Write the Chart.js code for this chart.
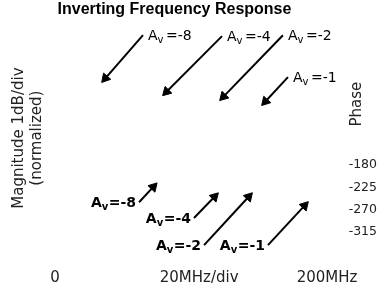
<!DOCTYPE html>
<html><head><meta charset="utf-8">
<script src="https://cdn.jsdelivr.net/npm/chart.js@4"></script>
<style>html,body{margin:0;padding:0;background:#fff}#wrap{width:381px;height:290px;position:relative}</style>
</head><body><div id="wrap"><canvas id="c"></canvas></div>
<script>
const chartTitle = 'Inverting Frequency Response';
const xTickValues = [0, 106, 200];
const xTickLabels = ['0', '20MHz/div', '200MHz'];
const phaseTickValues = [-180, -225, -270, -315];
const magTitle = ['Magnitude 1dB/div', '(normalized)'];
const phaseTitle = 'Phase';

// magnitude callouts (x in MHz, y in dB divisions)
const magGains = ['-8', '-4', '-2', '-1'];
const magTailMHz = [64.7, 122.8, 167.6, 171.3];
const magTailDiv = [9.44, 9.40, 9.44, 7.63];
const magHeadMHz = [37.0, 82.0, 123.9, 154.7];
const magHeadDiv = [7.58, 7.00, 6.79, 6.58];

// phase callouts (x in MHz, y in degrees)
const phaseGains = ['-8', '-4', '-2', '-1'];
const phaseTailMHz = [61.8, 102.2, 109.6, 156.6];
const phaseTailDeg = [-255, -287, -342, -342];
const phaseHeadMHz = [72.3, 117.3, 142.4, 183.5];
const phaseHeadDeg = [-224, -244, -244, -262];

function headRotation(c) {
  const ds = c.dataset, ch = c.chart;
  const xs = ch.scales.x, ys = ch.scales[ds.yAxisID];
  if (!xs || !ys) return 0;
  const p0 = ds.data[0], p1 = ds.data[1];
  const dx = xs.getPixelForValue(p1.x) - xs.getPixelForValue(p0.x);
  const dy = ys.getPixelForValue(p1.y) - ys.getPixelForValue(p0.y);
  return Math.atan2(dx, -dy) * 180 / Math.PI;
}

function arrowSets(gains, tx, ty, hx, hy, axis, side, bold) {
  return gains.map((g, i) => ({
    data: [{x: tx[i], y: ty[i]}, {x: hx[i], y: hy[i]}],
    yAxisID: axis, gain: g, labelSide: side, bold: bold,
    showLine: true, borderColor: '#000', borderWidth: 2, backgroundColor: '#000',
    pointBackgroundColor: '#000', pointBorderColor: '#000', pointBorderWidth: 1,
    pointStyle: 'triangle', pointRadius: [0, 5.5], pointHoverRadius: [0, 5.5],
    pointRotation: headRotation, clip: false
  }));
}

function drawGain(ctx, gain, x, y, side, bold) {
  const w = bold ? 'bold ' : '';
  const big = w + '14px "DejaVu Sans"', small = w + '10px "DejaVu Sans"';
  const rest = '=' + gain;
  ctx.font = big;
  const wA = ctx.measureText('A').width, wR = ctx.measureText(rest).width;
  ctx.font = small;
  const wv = ctx.measureText('v').width;
  const gap = bold ? 0.5 : 2.5;
  const total = wA + wv + gap + wR;
  const x0 = side === 'right' ? x + 5 : x - 3 - total;
  const base = y + 5;
  ctx.fillStyle = '#000'; ctx.textAlign = 'left'; ctx.textBaseline = 'alphabetic';
  ctx.font = big; ctx.fillText('A', x0, base);
  ctx.font = small; ctx.fillText('v', x0 + wA, base + 3);
  ctx.font = big; ctx.fillText(rest, x0 + wA + wv + gap, base);
}

const annot = {
  id: 'annot',
  afterDatasetsDraw(chart) {
    const ctx = chart.ctx;
    ctx.save();
    chart.data.datasets.forEach(ds => {
      const xs = chart.scales.x, ys = chart.scales[ds.yAxisID];
      drawGain(ctx, ds.gain, xs.getPixelForValue(ds.data[0].x), ys.getPixelForValue(ds.data[0].y), ds.labelSide, ds.bold);
    });
    const a = chart.chartArea;
    ctx.translate(a.right + 30, a.top + 82);
    ctx.rotate(-Math.PI / 2);
    ctx.font = '15px "DejaVu Sans"'; ctx.fillStyle = '#222';
    ctx.textAlign = 'center'; ctx.textBaseline = 'middle';
    ctx.fillText(phaseTitle, 0, 0);
    ctx.restore();
  }
};

const datasets = [
  ...arrowSets(magGains, magTailMHz, magTailDiv, magHeadMHz, magHeadDiv, 'y', 'right', false),
  ...arrowSets(phaseGains, phaseTailMHz, phaseTailDeg, phaseHeadMHz, phaseHeadDeg, 'y1', 'left', true)
];

new Chart(document.getElementById('c'), {
  type: 'scatter',
  data: { datasets },
  plugins: [annot],
  options: {
    responsive: true, maintainAspectRatio: false, animation: false, devicePixelRatio: 1,
    events: [],
    layout: { padding: { left: 0, right: 32, top: 0, bottom: 0 } },
    plugins: {
      legend: { display: false },
      tooltip: { enabled: false },
      title: { display: true, text: chartTitle, color: '#000',
        font: { family: '"Liberation Sans"', size: 16, weight: 'bold', lineHeight: 1.2 },
        padding: { top: 0, bottom: 3 } }
    },
    scales: {
      x: { type: 'linear', min: 0, max: 200,
        grid: { display: false, drawTicks: false }, border: { display: false },
        afterBuildTicks: s => { s.ticks = xTickValues.map(v => ({ value: v })); },
        afterFit: s => { s.height = 36; },
        ticks: { autoSkip: false, maxRotation: 0, minRotation: 0, padding: 15, color: '#222',
          font: { family: '"DejaVu Sans"', size: 15, lineHeight: 1.2 },
          callback: (v, i) => xTickLabels[i] } },
      y: { position: 'left', min: 0, max: 10,
        grid: { display: false, drawTicks: false }, border: { display: false },
        ticks: { display: false },
        afterFit: s => { s.width = 55; },
        title: { display: true, text: magTitle, color: '#222',
          font: { family: '"DejaVu Sans"', size: 15, lineHeight: 1.2 },
          padding: { top: 10, bottom: 0 } } },
      y1: { position: 'right', min: -360, max: 110,
        grid: { display: false, drawTicks: false }, border: { display: false },
        afterBuildTicks: s => { s.ticks = phaseTickValues.map(v => ({ value: v })); },
        afterFit: s => { s.width = 22; s.paddingTop = 0; s.paddingBottom = 0; },
        ticks: { mirror: true, padding: 50, color: '#222', font: { family: '"DejaVu Sans"', size: 12.5 },
          callback: v => String(v) } }
    }
  }
});
</script></body></html>
